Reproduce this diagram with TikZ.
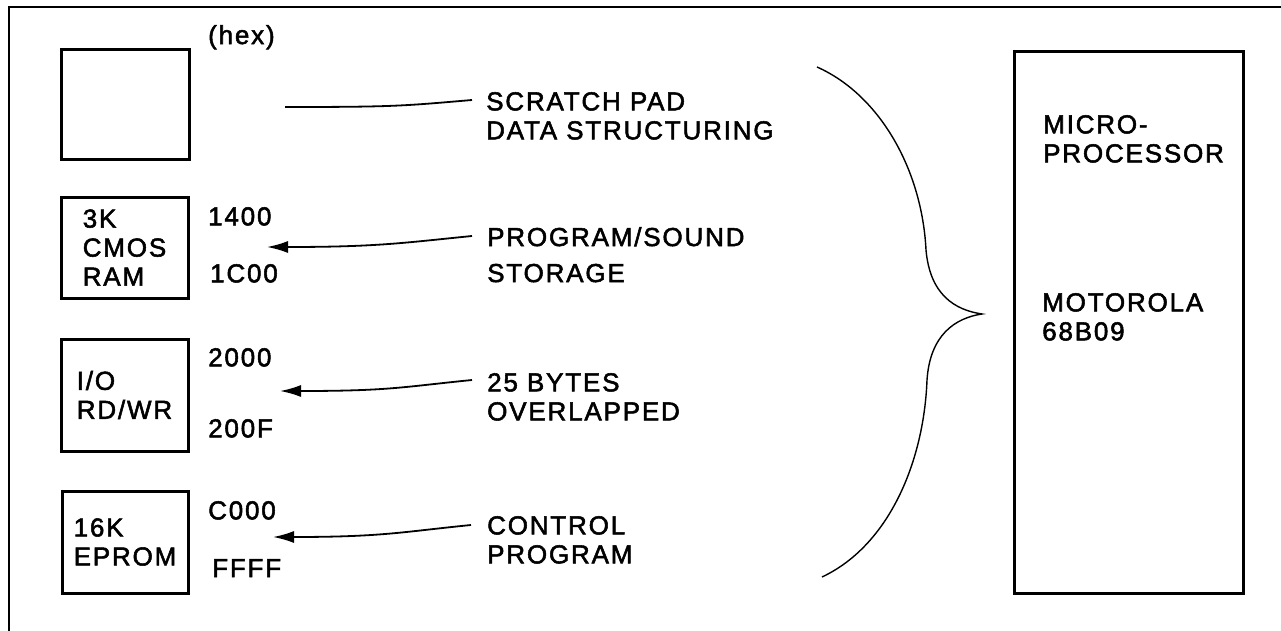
\documentclass[tikz,border=0pt]{standalone}
\usepackage{fontspec}
\setmainfont{Liberation Sans}[LetterSpace=7, FakeBold=2]
\usetikzlibrary{arrows.meta}

\begin{document}
\begin{tikzpicture}[x=1pt, y=-1pt,
        memblk/.style={draw, line width=3pt, inner sep=0pt, align=left,
          font=\fontsize{26}{29}\selectfont},
        link/.style={line width=1.8pt},
        arrowlink/.style={link, -{Latex[length=21pt,width=12pt]}}]
      \tikzstyle{word} = [font=\fontsize{26}{29}\selectfont, inner sep=0pt,
        anchor=north west, align=left]
      \useasboundingbox (0,0) rectangle (1281,631);
      \draw[line width=2pt] (9,631) -- (9,7) -- (1281,7);
      % memory blocks
      \node (scratchpad) [memblk, minimum width=128, minimum height=110] at (125,105) {};
      \node (cmos) [memblk, minimum width=127, minimum height=101] at (124.5,247.5) {3K\\CMOS\\RAM};
      \node (io) [memblk, minimum width=127, minimum height=112] at (124.5,395) {I/O\\RD/WR};
      \node (eprom) [memblk, minimum width=126, minimum height=102] at (125,542) {16K\\EPROM};
      % addresses
      \node (hex) [word] at (208,25) {(hex)};
      \node (a1400) [word] at (208,207) {1400};
      \node (a1C00) [word] at (210,264) {1C00};
      \node (a2000) [word] at (208,348) {2000};
      \node (a200F) [word] at (208,419) {200F};
      \node (aC000) [word] at (208,501) {C000};
      \node (aFFFF) [word] at (212,559) {FFFF};
      % uses
      \node (scratch) [word] at (486,92) {SCRATCH PAD\\DATA STRUCTURING};
      \node (progsound) [word] at (487,227) {PROGRAM/SOUND\\[7pt]STORAGE};
      \node (bytes) [word] at (487,373) {25 BYTES\\OVERLAPPED};
      \node (control) [word] at (487,516) {CONTROL\\PROGRAM};
      \coordinate (tip1) at (285,107);
      \coordinate (tip2) at (267,247);
      \coordinate (tip3) at (280,391);
      \coordinate (tip4) at (273,537);
      \draw[link] ([shift={(-14,8)}]scratch.north west) .. controls +(-70,6) and +(110,0) .. (tip1);
      \draw[arrowlink] ([shift={(-15,9)}]progsound.north west) .. controls +(-70,7) and +(110,0) .. (tip2);
      \draw[arrowlink] ([shift={(-15,7)}]bytes.north west) .. controls +(-70,7) and +(110,0) .. (tip3);
      \draw[arrowlink] ([shift={(-16,9)}]control.north west) .. controls +(-70,7) and +(110,0) .. (tip4);
      % processor
      \node (cpu) [memblk, minimum width=229, minimum height=541] at (1128.5,322.5) {};
      \node (micro) [word] at (1043,115) {MICRO-\\PROCESSOR};
      \node (motorola) [word] at (1042,293) {MOTOROLA\\68B09};
      \coordinate (bracetop) at (817,67);
      \coordinate (bracetip) at (982,314);
      \coordinate (bracebot) at (822,577);
      \draw[line width=1.4pt] (bracetop) .. controls (880,95) and (922,170) .. (926,250)
        .. controls (930,295) and (955,310) .. (bracetip)
        .. controls (955,318) and (930,335) .. (927,380)
        .. controls (924,460) and (890,545) .. (bracebot);
    \end{tikzpicture}
\end{document}
